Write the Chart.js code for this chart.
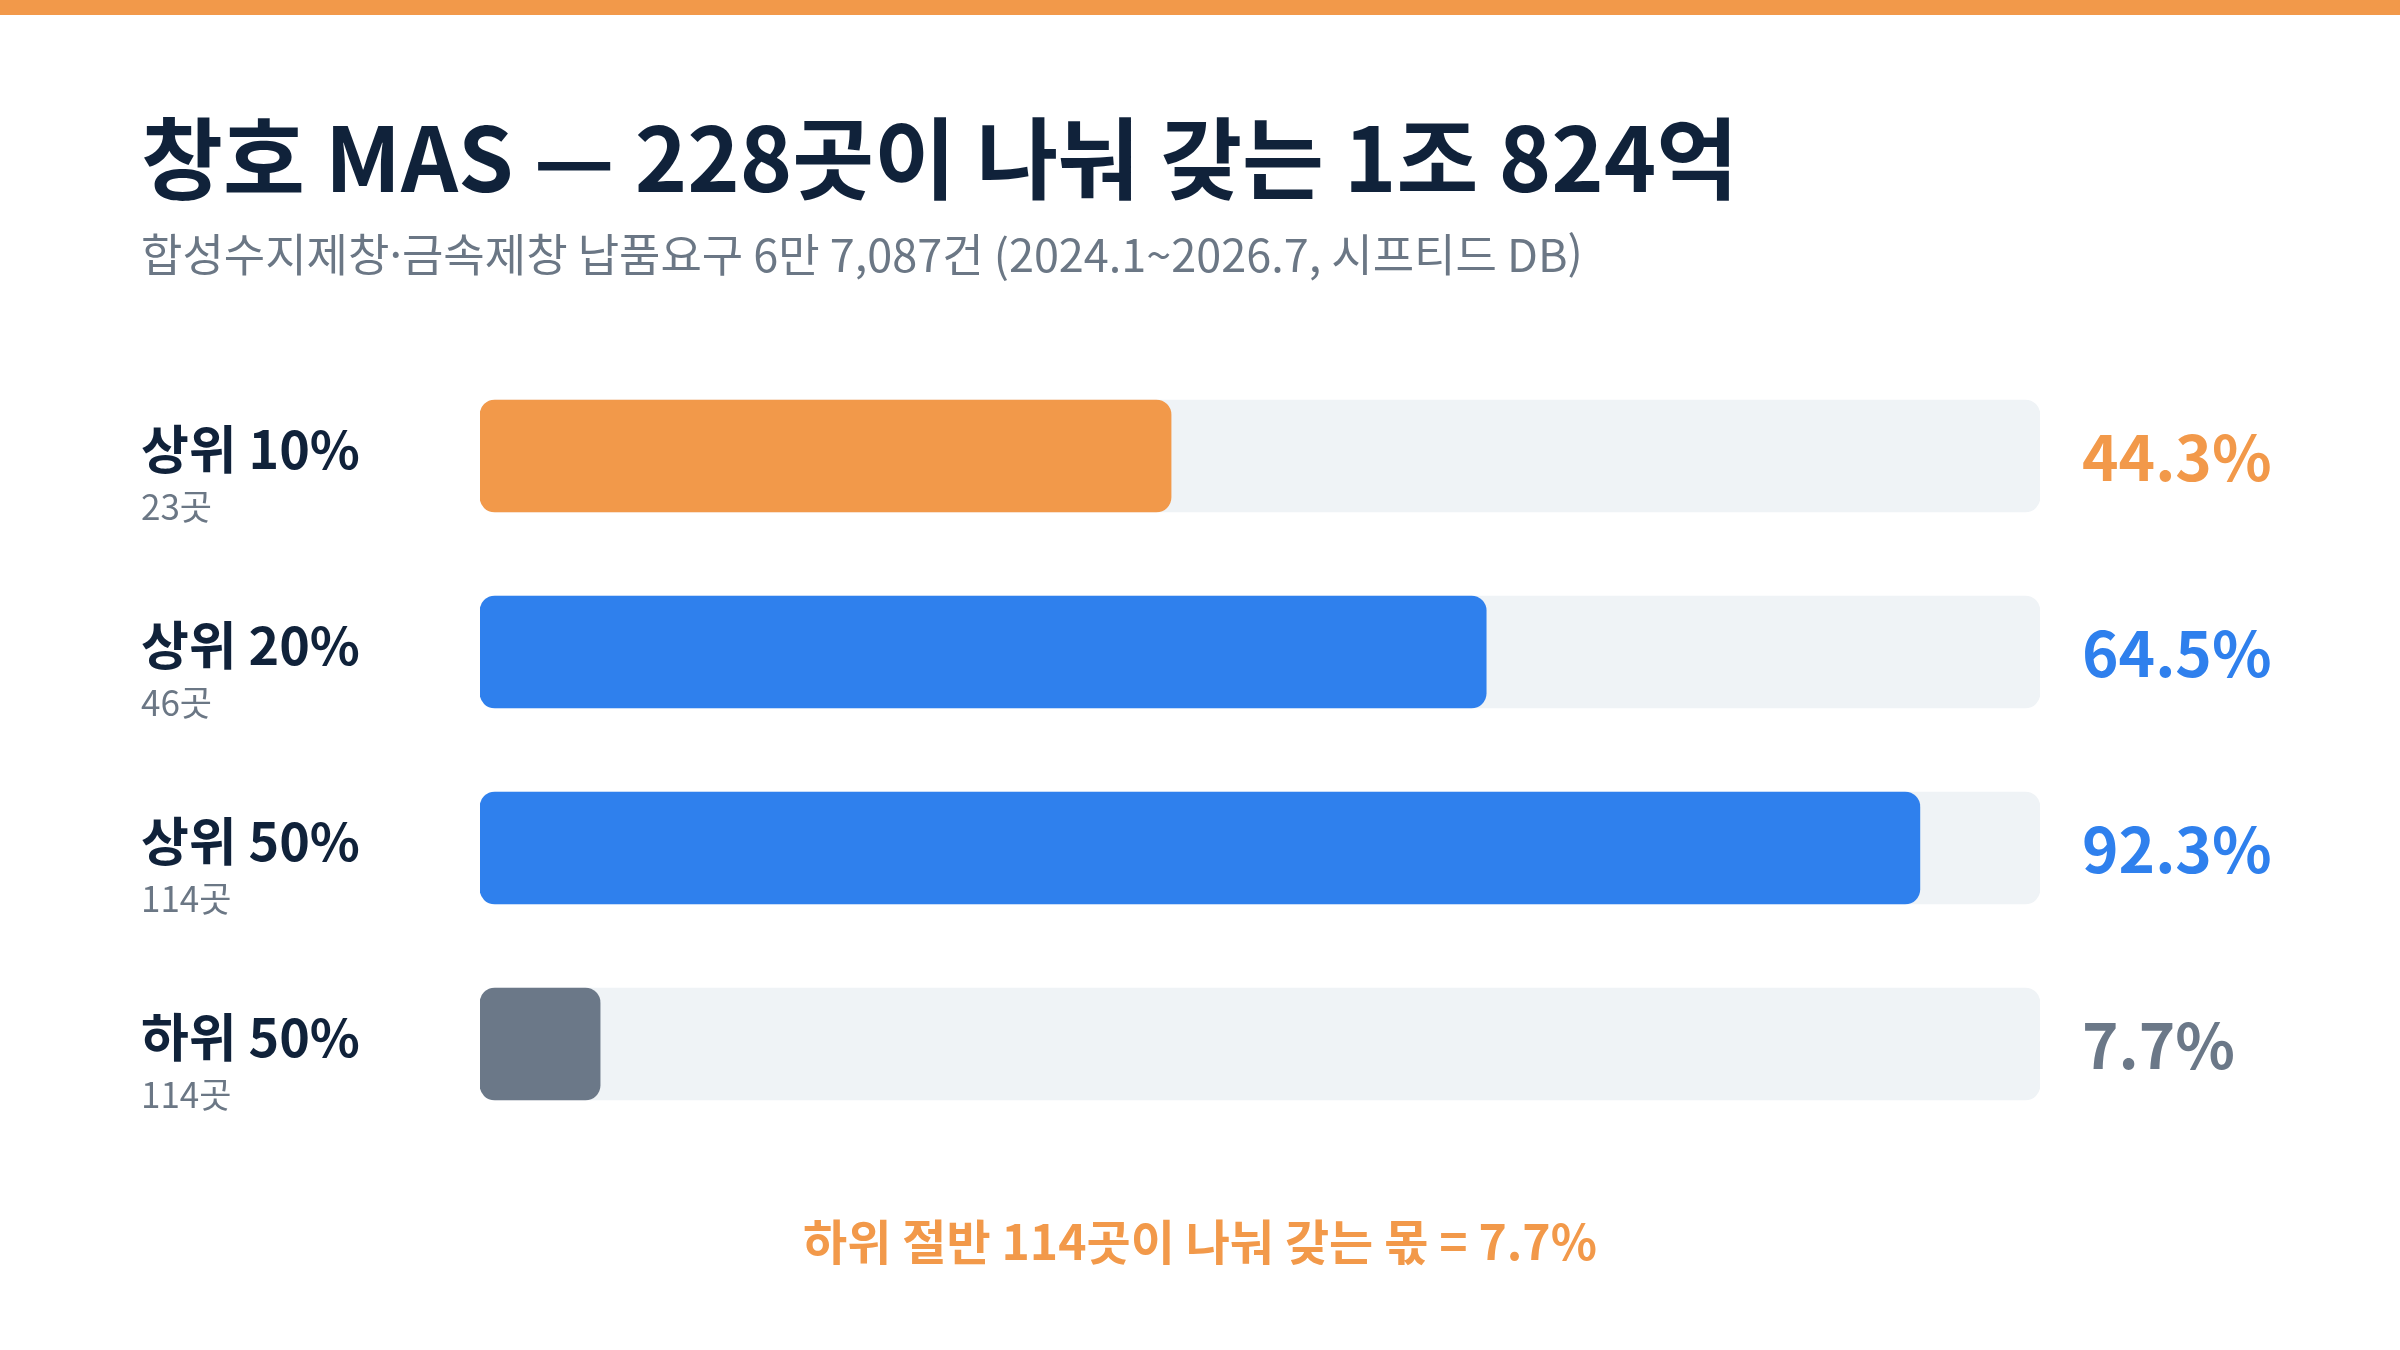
<!DOCTYPE html>
<html lang="ko">
<head>
<meta charset="utf-8">
<title>창호 MAS 점유율</title>
<script src="https://cdn.jsdelivr.net/npm/chart.js@4.4.1/dist/chart.umd.min.js"></script>
<style>
  html, body { margin: 0; padding: 0; background: #ffffff; }
  #wrap { position: relative; width: 2400px; height: 1350px; }
</style>
</head>
<body>
<div id="wrap"><canvas id="shareChart" width="2400" height="1350"></canvas></div>
<script>
// data
const groups = ['상위 10%', '상위 20%', '상위 50%', '하위 50%'];
const counts = ['23곳', '46곳', '114곳', '114곳'];
const shares = [44.3, 64.5, 92.3, 7.7];
const fullShare = [100, 100, 100, 100];

const titleText = '창호 MAS — 228곳이 나눠 갖는 1조 824억';
const subtitleText = '합성수지제창·금속제창 납품요구 6만 7,087건 (2024.1~2026.7, 시프티드 DB)';
const noteText = '하위 절반 114곳이 나눠 갖는 몫 = 7.7%';

// styles
const FONT = '"Noto Sans CJK KR", "Noto Sans", sans-serif';
const ORANGE = '#F2994A';
const BLUE = '#2F80ED';
const GRAY = '#6B7888';
const NAVY = '#10223A';
const MUTED = '#6B7785';
const TRACK = '#EFF3F6';
const barColors = [ORANGE, BLUE, BLUE, GRAY];

function formatPct(v) { return v.toFixed(1) + '%'; }

const textPlugin = {
  id: 'textLayer',
  beforeDraw(chart) {
    const ctx = chart.ctx;
    ctx.save();
    ctx.fillStyle = ORANGE;
    ctx.fillRect(0, 0, chart.width, 15);
    ctx.restore();
  },
  afterDatasetsDraw(chart) {
    const ctx = chart.ctx;
    const xs = chart.scales.x;
    const ys = chart.scales.y;
    ctx.save();
    ctx.textAlign = 'left';
    ctx.textBaseline = 'alphabetic';

    ctx.fillStyle = NAVY;
    ctx.font = `700 89px ${FONT}`;
    ctx.fillText(titleText, 141, 192);

    ctx.fillStyle = MUTED;
    ctx.font = `400 45px ${FONT}`;
    ctx.fillText(subtitleText, 141, 272);

    groups.forEach((g, i) => {
      const cy = ys.getPixelForValue(i);
      ctx.textAlign = 'left';
      ctx.fillStyle = NAVY;
      ctx.font = `700 52px ${FONT}`;
      ctx.fillText(g, 141, cy + 13);
      ctx.fillStyle = MUTED;
      ctx.font = `400 35px ${FONT}`;
      ctx.fillText(counts[i], 141, cy + 64);

      ctx.fillStyle = barColors[i];
      ctx.font = `700 62px ${FONT}`;
      ctx.fillText(formatPct(shares[i]), xs.getPixelForValue(100) + 42, cy + 25);
    });

    ctx.textAlign = 'center';
    ctx.fillStyle = ORANGE;
    ctx.font = `700 48px ${FONT}`;
    ctx.fillText(noteText, chart.width / 2, 1260);
    ctx.restore();
  }
};

const ctx = document.getElementById('shareChart').getContext('2d');

const shareChart = new Chart(ctx, {
  type: 'bar',
  data: {
    labels: groups,
    datasets: [{
      label: '점유율',
      data: shares,
      backgroundColor: barColors,
      barThickness: 112,
      borderRadius: 15,
      borderSkipped: false,
      grouped: false
    }, {
      label: '전체',
      data: fullShare,
      backgroundColor: TRACK,
      barThickness: 112,
      borderRadius: 15,
      borderSkipped: false,
      grouped: false
    }]
  },
  options: {
    indexAxis: 'y',
    responsive: false,
    animation: false,
    devicePixelRatio: 1,
    layout: { padding: { left: 480, right: 360, top: 358, bottom: 208 } },
    scales: {
      x: { min: 0, max: 100, display: false },
      y: { display: false }
    },
    plugins: {
      legend: { display: false },
      tooltip: { enabled: false }
    }
  },
  plugins: [textPlugin]
});
</script>
</body>
</html>
